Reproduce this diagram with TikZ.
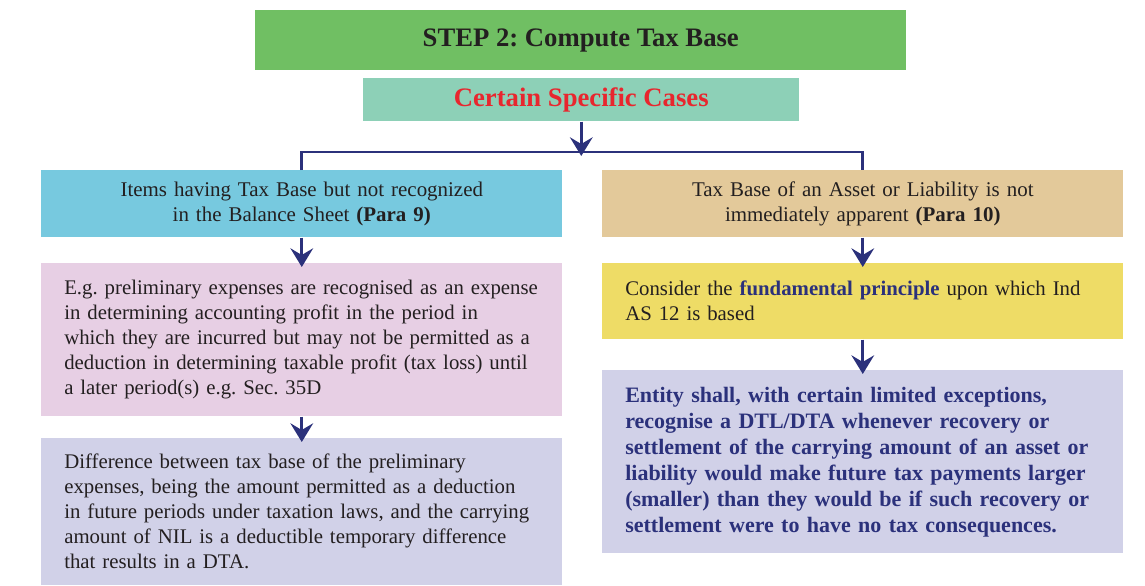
\documentclass[tikz,border=0pt]{standalone}
\usepackage{fontspec}
\setmainfont{Liberation Serif}
\usetikzlibrary{arrows.meta}

\definecolor{stepgreen}{HTML}{70BF63}
\definecolor{casesteal}{HTML}{8DD0B7}
\definecolor{casesred}{HTML}{E8262E}
\definecolor{paracyan}{HTML}{77C9DF}
\definecolor{paratan}{HTML}{E3C99A}
\definecolor{examplepink}{HTML}{E7CFE4}
\definecolor{principleyellow}{HTML}{EEDC66}
\definecolor{resultlavender}{HTML}{D1D1E8}
\definecolor{linkblue}{HTML}{2B317B}
\definecolor{textdark}{HTML}{231F20}

\frenchspacing
\begin{document}
\begin{tikzpicture}[x=0.75pt,y=-0.75pt,
    boxbase/.style={anchor=north west, inner ysep=0pt, text=textdark},
    headbox/.style={boxbase, inner xsep=0pt, font=\fontsize{20}{24}\selectfont\bfseries},
    parabox/.style={boxbase, minimum width=390.75pt, minimum height=50.25pt,
        inner xsep=17.25pt, text width=356.25pt, align=center,
        font=\fontsize{15.7}{18.75}\selectfont},
    bodybox/.style={boxbase, minimum width=390.75pt,
        inner xsep=17.25pt, text width=356.25pt, align=left,
        font=\fontsize{15.6}{18.75}\selectfont},
    link/.style={draw=linkblue, line width=2pt},
    linkarrow/.style={link, -{Stealth[length=14pt,width=17pt,inset=5pt]}, shorten >=-3pt}]
    \useasboundingbox (0,0) rectangle (1145,585);

    % Top boxes
    \node[headbox, fill=stepgreen, minimum width=488.25pt, minimum height=45pt] (step) at (255,10) {STEP 2: Compute Tax Base};
    \node[headbox, fill=casesteal, text=casesred, minimum width=327pt, minimum height=32.25pt] (cases) at (363,78) {Certain Specific Cases};

    % Left column
    \node[parabox, fill=paracyan] (para9) at (41,170) {Items having Tax Base but not recognized\\in the Balance Sheet \textbf{(Para 9)}};
    \node[bodybox, fill=examplepink, minimum height=114.75pt] (example) at (41,263) {E.g. preliminary expenses are recognised as an expense\\in determining accounting profit in the period in\\which they are incurred but may not be permitted as a\\deduction in determining taxable profit (tax loss) until\\a later period(s) e.g. Sec. 35D};
    \node[bodybox, fill=resultlavender, minimum height=110.25pt] (dta) at (41,438) {Difference between tax base of the preliminary\\expenses, being the amount permitted as a deduction\\in future periods under taxation laws, and the carrying\\amount of NIL is a deductible temporary difference\\that results in a DTA.};

    % Right column
    \node[parabox, fill=paratan] (para10) at (602,170) {Tax Base of an Asset or Liability is not\\immediately apparent \textbf{(Para 10)}};
    \node[bodybox, fill=principleyellow, minimum height=57pt] (principle) at (602,263) {Consider the \textbf{\textcolor{linkblue}{fundamental principle}} upon which Ind\\AS 12 is based};
    \node[bodybox, fill=resultlavender, text=linkblue, minimum height=137.25pt, font=\fontsize{16.5}{19.5}\selectfont\bfseries] (rule) at (602,370) {Entity shall, with certain limited exceptions,\\recognise a DTL/DTA whenever recovery or\\settlement of the carrying amount of an asset or\\liability would make future tax payments larger\\(smaller) than they would be if such recovery or\\settlement were to have no tax consequences.};

    % Connectors
    \coordinate (split) at (cases.south |- 0,152);
    \draw[linkarrow] (cases.south) -- (split);
    \draw[link] (para9.north) |- (split) -| (para10.north);
    \draw[linkarrow] (para9.south) -- (example.north);
    \draw[linkarrow] (example.south) -- (dta.north);
    \draw[linkarrow] (para10.south) -- (principle.north);
    \draw[linkarrow] (principle.south) -- (rule.north);
\end{tikzpicture}
\end{document}
